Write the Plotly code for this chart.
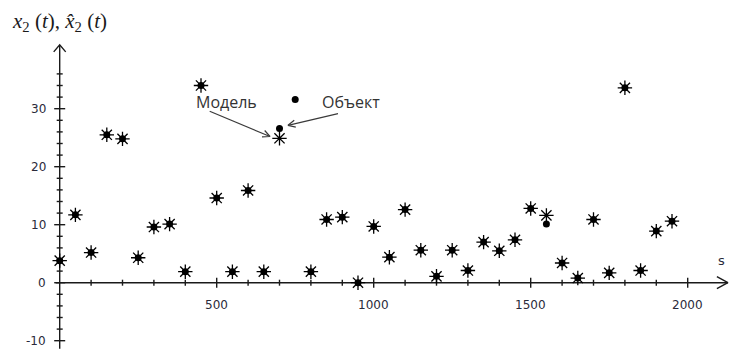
import math
import plotly.graph_objects as go

# ---------------- data ----------------
s_values = [0, 50, 100, 150, 200, 250, 300, 350, 400, 450,
            500, 550, 600, 650, 700, 750, 800, 850, 900, 950,
            1000, 1050, 1100, 1150, 1200, 1250, 1300, 1350, 1400, 1450,
            1500, 1550, 1600, 1650, 1700, 1750, 1800, 1850, 1900, 1950]
object_values = [3.8, 11.7, 5.2, 25.5, 24.8, 4.3, 9.6, 10.1, 1.9, 34.0,
                 14.6, 1.9, 15.9, 1.9, 26.6, 31.6, 1.9, 10.9, 11.3, 0.0,
                 9.7, 4.4, 12.6, 5.6, 1.1, 5.6, 2.1, 7.0, 5.5, 7.4,
                 12.8, 10.1, 3.4, 0.8, 10.9, 1.7, 33.6, 2.1, 8.9, 10.6]
model_values = [3.8, 11.7, 5.2, 25.5, 24.8, 4.3, 9.6, 10.1, 1.9, 34.0,
                14.6, 1.9, 15.9, 1.9, 24.9, None, 1.9, 10.9, 11.3, 0.0,
                9.7, 4.4, 12.6, 5.6, 1.1, 5.6, 2.1, 7.0, 5.5, 7.4,
                12.8, 11.6, 3.4, 0.8, 10.9, 1.7, 33.6, 2.1, 8.9, 10.6]

x_major_ticks = [500, 1000, 1500, 2000]
x_tick_labels = ["500", "1000", "1500", "2000"]
x_minor_ticks = [v for v in range(100, 2001, 100) if v not in x_major_ticks]
y_major_ticks = [-10, 0, 10, 20, 30]
y_tick_labels = ["-10", "0", "10", "20", "30"]
y_minor_ticks = [v for v in range(-8, 37, 2) if v % 10 != 0]

# ---------------- geometry ----------------
W, H = 743, 355
OX, OY = 51.7, 274.7          # pixel position of the origin
KX, KY = 0.314, 5.8           # pixels per data unit
x_range = [-OX / KX, (W - OX) / KX]
y_range = [-(H - OY) / KY, OY / KY]


def dx(p):
    return p / KX


def dy(p):
    return p / KY


def px_x(p):
    return (p - OX) / KX


def px_y(p):
    return (OY - p) / KY


X_TIP = 2128
Y_TIP = 41
Y_BOTTOM = -11.4

axis_x, axis_y = [], []


def seg(xs, ys):
    axis_x.extend(xs + [None])
    axis_y.extend(ys + [None])


seg([-dx(4), X_TIP], [0, 0])
seg([X_TIP - dx(11), X_TIP, X_TIP - dx(11)], [dy(6), 0, -dy(6)])
seg([0, 0], [Y_BOTTOM, Y_TIP])
seg([-dx(6), 0, dx(6)], [Y_TIP - dy(7), Y_TIP, Y_TIP - dy(7)])
for t in x_major_ticks:
    seg([t, t], [-dy(5), dy(5)])
for t in x_minor_ticks:
    seg([t, t], [-dy(3), dy(3)])
for t in y_major_ticks:
    seg([-dx(5.5), dx(5.5)], [t, t])
for t in y_minor_ticks:
    seg([-dx(3), dx(3)], [t, t])

# callout arrows (pixel space -> data space)
arr_x, arr_y = [], []


def callout(tail, tip, head=8.0, half=0.45):
    tx, ty = tail
    hx, hy = tip
    ang = math.atan2(hy - ty, hx - tx)
    pts = []
    for a in (ang + math.pi - half, ang + math.pi + half):
        pts.append((hx + head * math.cos(a), hy + head * math.sin(a)))
    arr_x.extend([px_x(tx), px_x(hx), None,
                  px_x(pts[0][0]), px_x(hx), px_x(pts[1][0]), None])
    arr_y.extend([px_y(ty), px_y(hy), None,
                  px_y(pts[0][1]), px_y(hy), px_y(pts[1][1]), None])


callout((201.7, 103.3), (262.0, 128.5))
callout((330.0, 105.7), (280.0, 117.3))

fig = go.Figure()
fig.add_trace(go.Scatter(x=axis_x, y=axis_y, mode="lines",
                         line=dict(color="#1a1a1a", width=1.4),
                         hoverinfo="skip", showlegend=False))
fig.add_trace(go.Scatter(x=arr_x, y=arr_y, mode="lines",
                         line=dict(color="#3a3a3a", width=1.2),
                         hoverinfo="skip", showlegend=False))
fig.add_trace(go.Scatter(x=s_values, y=object_values, mode="markers", name="Объект",
                         marker=dict(symbol="circle", size=7, color="black"),
                         showlegend=False))
fig.add_trace(go.Scatter(x=s_values, y=model_values, mode="markers", name="Модель",
                         marker=dict(symbol="asterisk-open", size=12, color="black",
                                     line=dict(color="black", width=1.3)),
                         showlegend=False))

tick_font = dict(family="DejaVu Sans", size=12, color="#2a2a3a")
ann = []
for t, lab in zip(x_major_ticks, x_tick_labels):
    ann.append(dict(x=t, y=-dy(22), text=lab, showarrow=False, font=tick_font,
                    xanchor="center", yanchor="middle"))
for t, lab in zip(y_major_ticks, y_tick_labels):
    ann.append(dict(x=-dx(12), y=t, text=lab, showarrow=False, font=tick_font,
                    xanchor="right", yanchor="middle"))

ann.append(dict(x=px_x(713), y=px_y(252), text="s", showarrow=False,
                font=dict(family="DejaVu Sans", size=13, color="#2a2a3a"),
                xanchor="center", yanchor="middle"))
ann.append(dict(x=px_x(2), y=px_y(14),
                text="<i>x</i><sub>2</sub> (<i>t</i>), <i>x̂</i><sub>2</sub> (<i>t</i>)",
                showarrow=False, xanchor="left", yanchor="middle",
                font=dict(family="Liberation Serif", size=21, color="#1a1a1a")))

label_font = dict(family="Open Sans", size=16, color="#333333")
ann.append(dict(x=px_x(218), y=px_y(94), text="Модель", showarrow=False,
                font=label_font, xanchor="center", yanchor="middle"))
ann.append(dict(x=px_x(342.5), y=px_y(94), text="Объект", showarrow=False,
                font=label_font, xanchor="center", yanchor="middle"))

fig.update_layout(
    width=W, height=H,
    margin=dict(l=0, r=0, t=0, b=0),
    paper_bgcolor="white", plot_bgcolor="white",
    xaxis=dict(range=x_range, visible=False, fixedrange=True),
    yaxis=dict(range=y_range, visible=False, fixedrange=True),
    annotations=ann,
    showlegend=False,
)

fig.write_html("out.html")
